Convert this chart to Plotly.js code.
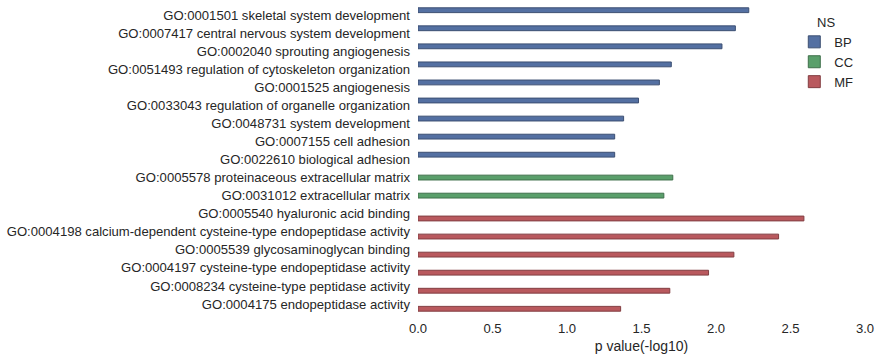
<!DOCTYPE html>
<html>
<head>
<meta charset="utf-8">
<script src="https://cdn.plot.ly/plotly-3.0.1.min.js"></script>
<style>html,body{margin:0;padding:0;background:#fff;}#chart{width:880px;height:362px;}</style>
</head>
<body>
<div id="chart"></div>
<script>
const bpTerms = [
  "GO:0001501 skeletal system development",
  "GO:0007417 central nervous system development",
  "GO:0002040 sprouting angiogenesis",
  "GO:0051493 regulation of cytoskeleton organization",
  "GO:0001525 angiogenesis",
  "GO:0033043 regulation of organelle organization",
  "GO:0048731 system development",
  "GO:0007155 cell adhesion",
  "GO:0022610 biological adhesion"
];
const bpValues = [2.22, 2.13, 2.04, 1.70, 1.62, 1.48, 1.38, 1.32, 1.32];

const ccTerms = [
  "GO:0005578 proteinaceous extracellular matrix",
  "GO:0031012 extracellular matrix"
];
const ccValues = [1.71, 1.65];

const mfTerms = [
  "GO:0005540 hyaluronic acid binding",
  "GO:0004198 calcium-dependent cysteine-type endopeptidase activity",
  "GO:0005539 glycosaminoglycan binding",
  "GO:0004197 cysteine-type endopeptidase activity",
  "GO:0008234 cysteine-type peptidase activity",
  "GO:0004175 endopeptidase activity"
];
const mfValues = [2.59, 2.42, 2.12, 1.95, 1.69, 1.36];

const xTicks = [0.0, 0.5, 1.0, 1.5, 2.0, 2.5, 3.0];
const xTickText = ["0.0", "0.5", "1.0", "1.5", "2.0", "2.5", "3.0"];

const allTerms = bpTerms.concat(ccTerms, mfTerms);
const barW = 0.8 / 3;

function mk(name, terms, vals, color, line, off) {
  return {
    type: "bar", orientation: "h", name: name,
    x: vals, y: terms,
    width: barW, offset: off,
    marker: {color: color, line: {color: line, width: 1}},
    hoverinfo: "x+y"
  };
}

const data = [
  mk("BP", bpTerms, bpValues, "#5470a2", "#3c4f72", -0.4),
  mk("CC", ccTerms, ccValues, "#5a9f6b", "#3f704b", -barW / 2),
  mk("MF", mfTerms, mfValues, "#b9595e", "#823e42", barW / 2)
];

const layout = {
  width: 880, height: 362,
  margin: {l: 418, r: 15, t: 6, b: 49},
  paper_bgcolor: "#fff", plot_bgcolor: "#fff",
  font: {family: "Liberation Sans, Arial, sans-serif", size: 13.1, color: "#262626"},
  barmode: "overlay",
  showlegend: true,
  xaxis: {
    range: [0, 3], tickvals: xTicks, ticktext: xTickText,
    showgrid: false, zeroline: false, showline: false, ticks: "",
    ticklabelstandoff: 6,
    tickfont: {size: 13.1, color: "#262626"},
    title: {text: "p value(-log10)", font: {size: 14, color: "#262626"}, standoff: 6}
  },
  yaxis: {
    type: "category", categoryorder: "array", categoryarray: allTerms,
    range: [allTerms.length - 0.5, -0.5],
    showgrid: false, zeroline: false, showline: false, ticks: "",
    ticklabelstandoff: 7,
    tickfont: {size: 13.1, color: "#262626"}
  },
  legend: {
    x: 0.985, y: 0.987, xanchor: "right", yanchor: "top",
    bgcolor: "rgba(0,0,0,0)",
    title: {text: "NS", side: "top center", font: {size: 13, color: "#262626"}},
    font: {size: 13, color: "#262626"},
    tracegroupgap: 0, itemwidth: 30
  }
};

Plotly.newPlot("chart", data, layout, {displayModeBar: false, staticPlot: true});
</script>
</body>
</html>
